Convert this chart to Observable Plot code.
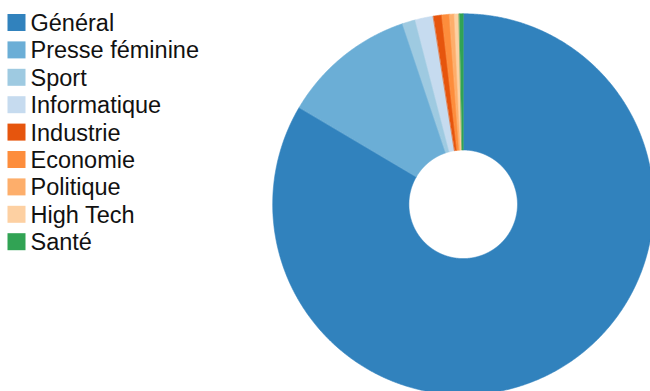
<!DOCTYPE html>
<html>
<head>
<meta charset="utf-8">
<script src="https://cdn.jsdelivr.net/npm/d3@7"></script>
<script src="https://cdn.jsdelivr.net/npm/@observablehq/plot@0.6"></script>
<style>
  html, body { margin: 0; padding: 0; background: #fff; }
  #chart svg { display: block; }
</style>
</head>
<body>
<div id="chart"></div>
<script>
// Data (share of the whole, in %)
const categories = ["Général", "Presse féminine", "Sport", "Informatique", "Industrie", "Economie", "Politique", "High Tech", "Santé"];
const values = [83.5, 11.36, 1.11, 1.53, 0.72, 0.64, 0.42, 0.39, 0.33];
const colors = ["#3182bd", "#6baed6", "#9ecae1", "#c6dbef", "#e6550d", "#fd8d3c", "#fdae6b", "#fdd0a2", "#31a354"];

const W = 650, H = 391;
const cx = 462.7, cy = 203.8, R = 190.5, r0 = 54.3;

const data = categories.map((name, i) => ({name, value: values[i]}));
const arcs = d3.pie().sort(null).value(d => d.value)(data);

// polygon outline of each donut slice, built from the pie layout
const slicePts = [];
for (const a of arcs) {
  const n = Math.max(2, Math.ceil((a.endAngle - a.startAngle) / 0.005));
  for (let k = 0; k <= n; k++) {
    const t = a.startAngle + (a.endAngle - a.startAngle) * k / n;
    slicePts.push({name: a.data.name, x: cx + R * Math.sin(t), y: cy - R * Math.cos(t)});
  }
  for (let k = n; k >= 0; k--) {
    const t = a.startAngle + (a.endAngle - a.startAngle) * k / n;
    slicePts.push({name: a.data.name, x: cx + r0 * Math.sin(t), y: cy - r0 * Math.cos(t)});
  }
}

// legend rows
const rowTop = 14, rowStep = 27.4, sw = 18, sh = 17;
const legend = categories.map((name, i) => ({
  name,
  x1: 7.5, x2: 7.5 + sw,
  y1: rowTop + i * rowStep, y2: rowTop + i * rowStep + sh,
  tx: 30, ty: rowTop + i * rowStep + sh / 2
}));

const chart = Plot.plot({
  width: W,
  height: H,
  margin: 0,
  style: {background: "#fff", fontFamily: "'Liberation Sans', Arial, sans-serif"},
  x: {type: "identity", axis: null},
  y: {type: "identity", axis: null},
  color: {domain: categories, range: colors},
  marks: [
    Plot.line(slicePts, {x: "x", y: "y", z: "name", fill: "name", stroke: "name", strokeWidth: 0.6, curve: "linear-closed"}),
    Plot.rect(legend, {x1: "x1", x2: "x2", y1: "y1", y2: "y2", fill: "name"}),
    Plot.text(legend, {x: "tx", y: "ty", text: "name", textAnchor: "start", fontSize: 23.5, fill: "#111", dy: 0.5})
  ]
});
document.getElementById("chart").appendChild(chart);
</script>
</body>
</html>
